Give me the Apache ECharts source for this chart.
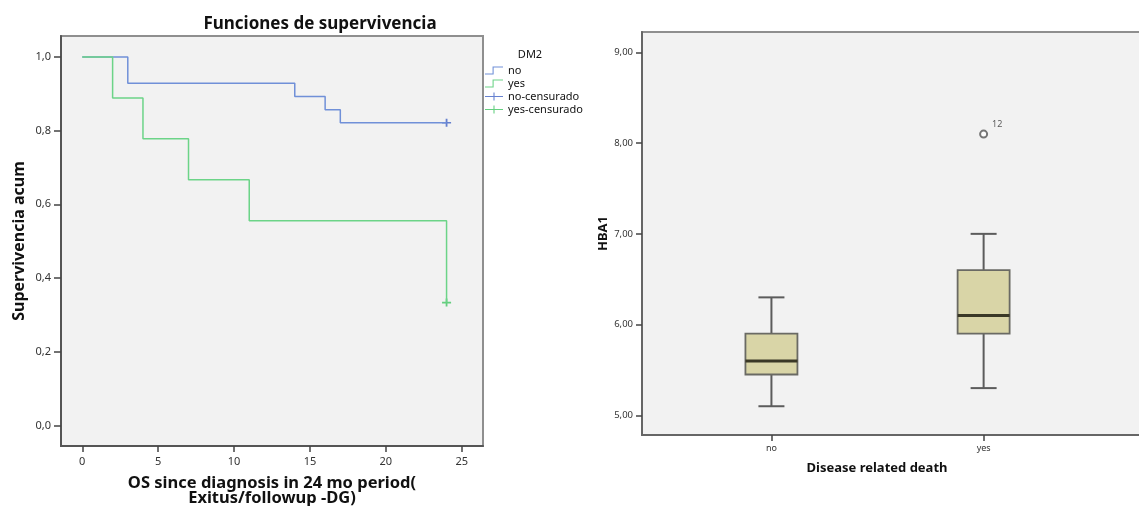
<!DOCTYPE html>
<html>
<head>
<meta charset="utf-8">
<script src="https://cdn.jsdelivr.net/npm/echarts@6/dist/echarts.min.js"></script>
<style>
html,body{margin:0;padding:0;background:#fff;}
#main{width:1139px;height:506px;}
</style>
</head>
<body>
<div id="main"></div>
<script>
// ---- Left chart: Kaplan-Meier survival (DM2) ----
var noTimes  = [0, 3, 14, 16, 17, 24];
var noSurv   = [1.0, 0.9286, 0.8929, 0.8571, 0.8214, 0.8214];
var yesTimes = [0, 2, 4, 7, 11, 24];
var yesSurv  = [1.0, 0.8889, 0.7778, 0.6667, 0.5556, 0.3333];
var noCensorTimes = [24];
var noCensorSurv  = [0.8214];
var yesCensorTimes = [24];
var yesCensorSurv  = [0.3333];
var kmXTicks = [0, 5, 10, 15, 20, 25];
var kmYTicks = [0.0, 0.2, 0.4, 0.6, 0.8, 1.0];
var legendNames = ['no', 'yes', 'no-censurado', 'yes-censurado'];

// ---- Right chart: HBA1 boxplot by disease related death ----
var boxCategories = ['no', 'yes'];
var boxLow    = [5.10, 5.30];
var boxQ1     = [5.45, 5.90];
var boxMedian = [5.60, 6.10];
var boxQ3     = [5.90, 6.60];
var boxHigh   = [6.30, 7.00];
var outlierCategory = [1];
var outlierValue    = [8.10];
var outlierLabel    = ['12'];
var hbaTicks = [5, 6, 7, 8, 9];

function zip(a, b) { return a.map(function (v, i) { return [v, b[i]]; }); }

var FONT = 'Noto Sans';
var chart = echarts.init(document.getElementById('main'));

var stepIcon = 'path://M0,7.8 L8.4,7.8 L8.4,0 L20,0 L20,1.2 L9.6,1.2 L9.6,9 L0,9 Z';
var plusIcon = 'path://M0,3.9 L20,3.9 L20,5.1 L0,5.1 Z M9.4,0 L10.6,0 L10.6,9 L9.4,9 Z';
var plusMark = 'path://M0,4 L10,4 L10,6 L0,6 Z M4,0 L6,0 L6,10 L4,10 Z';

var boxData = boxCategories.map(function (c, i) {
  return [i, boxLow[i], boxQ1[i], boxMedian[i], boxQ3[i], boxHigh[i]];
});

function renderBox(params, api) {
  var x = api.value(0);
  var pLow = api.coord([x, api.value(1)]);
  var pQ1 = api.coord([x, api.value(2)]);
  var pMed = api.coord([x, api.value(3)]);
  var pQ3 = api.coord([x, api.value(4)]);
  var pHigh = api.coord([x, api.value(5)]);
  var cx = pMed[0];
  var bw = 52, cw = 26;
  var lineStyle = { stroke: '#5c5c5c', lineWidth: 2 };
  return {
    type: 'group',
    children: [
      { type: 'line', shape: { x1: cx, y1: pHigh[1], x2: cx, y2: pQ3[1] }, style: lineStyle },
      { type: 'line', shape: { x1: cx, y1: pQ1[1], x2: cx, y2: pLow[1] }, style: lineStyle },
      { type: 'line', shape: { x1: cx - cw / 2, y1: pHigh[1], x2: cx + cw / 2, y2: pHigh[1] }, style: lineStyle },
      { type: 'line', shape: { x1: cx - cw / 2, y1: pLow[1], x2: cx + cw / 2, y2: pLow[1] }, style: lineStyle },
      { type: 'rect', shape: { x: cx - bw / 2, y: pQ3[1], width: bw, height: pQ1[1] - pQ3[1] },
        style: { fill: '#d9d5a7', stroke: '#6a6a64', lineWidth: 1.8 } },
      { type: 'line', shape: { x1: cx - bw / 2, y1: pMed[1], x2: cx + bw / 2, y2: pMed[1] },
        style: { stroke: '#3a3826', lineWidth: 3 } }
    ]
  };
}

var option = {
  animation: false,
  backgroundColor: '#ffffff',
  title: [
    { text: 'Funciones de supervivencia', left: 315, top: 11, textAlign: 'center',
      textStyle: { fontFamily: FONT, fontSize: 17, fontWeight: 'bold', color: '#111' } },
    { text: 'DM2', left: 525, top: 44, textAlign: 'center',
      textStyle: { fontFamily: FONT, fontSize: 11, fontWeight: 'normal', color: '#111' } }
  ],
  legend: {
    orient: 'vertical', left: 480, top: 60, itemWidth: 18, itemHeight: 9, itemGap: 2,
    textStyle: { fontFamily: FONT, fontSize: 11, color: '#111' },
    data: [
      { name: 'no', icon: stepIcon },
      { name: 'yes', icon: stepIcon },
      { name: 'no-censurado', icon: plusIcon },
      { name: 'yes-censurado', icon: plusIcon }
    ]
  },
  grid: [
    { left: 61, top: 36, right: 656, bottom: 60, show: true, backgroundColor: '#f2f2f2',
      borderColor: '#8f8f8f', borderWidth: 2, outerBoundsMode: 'none', containLabel: false },
    { left: 642, top: 32, right: -8, bottom: 71, show: true, backgroundColor: '#f2f2f2',
      borderColor: '#8f8f8f', borderWidth: 2, outerBoundsMode: 'none', containLabel: false }
  ],
  xAxis: [
    { gridIndex: 0, type: 'value', min: -1.4, max: 26.4,
      axisLine: { show: true, onZero: false, lineStyle: { color: '#555', width: 2 } },
      axisTick: { show: true, length: 6, customValues: kmXTicks, lineStyle: { color: '#444', width: 1.5 } },
      axisLabel: { customValues: kmXTicks, margin: 10, fontFamily: FONT, fontSize: 11, color: '#333' },
      splitLine: { show: false },
      name: 'OS since diagnosis in 24 mo period(\nExitus/followup -DG)',
      nameLocation: 'middle', nameGap: 30,
      nameTextStyle: { fontFamily: FONT, fontSize: 16.5, fontWeight: 'bold', color: '#111', lineHeight: 15 } },
    { gridIndex: 1, type: 'value', min: -0.61, max: 1.77,
      axisLine: { show: true, onZero: false, lineStyle: { color: '#666', width: 2 } },
      axisTick: { show: true, length: 6, customValues: [0, 1], lineStyle: { color: '#444', width: 1.5 } },
      axisLabel: { customValues: [0, 1], margin: 9, fontFamily: FONT, fontSize: 9, color: '#333',
        formatter: function (v) { return boxCategories[Math.round(v)]; } },
      splitLine: { show: false },
      name: 'Disease related death', nameLocation: 'middle', nameGap: 27,
      nameTextStyle: { fontFamily: FONT, fontSize: 13, fontWeight: 'bold', color: '#111', padding: [0, 35, 0, 0] } }
  ],
  yAxis: [
    { gridIndex: 0, type: 'value', min: -0.056, max: 1.057,
      axisLine: { show: true, onZero: false, lineStyle: { color: '#555', width: 2 } },
      axisTick: { show: true, length: 7, customValues: kmYTicks, lineStyle: { color: '#444', width: 1.5 } },
      axisLabel: { customValues: kmYTicks, margin: 10, fontFamily: FONT, fontSize: 11, color: '#333',
        formatter: function (v) { return v.toFixed(1).replace('.', ','); } },
      splitLine: { show: false },
      name: 'Supervivencia acum', nameLocation: 'middle', nameGap: 34,
      nameTextStyle: { fontFamily: FONT, fontSize: 16, fontWeight: 'bold', color: '#111' } },
    { gridIndex: 1, type: 'value', min: 4.783, max: 9.225,
      axisLine: { show: true, onZero: false, lineStyle: { color: '#666', width: 2 } },
      axisTick: { show: true, length: 6, customValues: hbaTicks, lineStyle: { color: '#444', width: 1.5 } },
      axisLabel: { customValues: hbaTicks, margin: 9, fontFamily: FONT, fontSize: 9.5, color: '#333',
        formatter: function (v) { return v.toFixed(2).replace('.', ','); } },
      splitLine: { show: false },
      name: 'HBA1', nameLocation: 'middle', nameGap: 32,
      nameTextStyle: { fontFamily: FONT, fontSize: 13, fontWeight: 'bold', color: '#111' } }
  ],
  series: [
    { name: 'no', type: 'line', xAxisIndex: 0, yAxisIndex: 0, step: 'end', symbol: 'none',
      data: zip(noTimes, noSurv), color: '#7090d8', lineStyle: { color: '#7090d8', width: 1.5 } },
    { name: 'yes', type: 'line', xAxisIndex: 0, yAxisIndex: 0, step: 'end', symbol: 'none',
      data: zip(yesTimes, yesSurv), color: '#6cd488', lineStyle: { color: '#6cd488', width: 1.5 } },
    { name: 'no-censurado', type: 'scatter', xAxisIndex: 0, yAxisIndex: 0, symbol: plusMark,
      symbolSize: [9, 8], data: zip(noCensorTimes, noCensorSurv), color: '#4062c4',
      itemStyle: { color: '#4062c4' } },
    { name: 'yes-censurado', type: 'scatter', xAxisIndex: 0, yAxisIndex: 0, symbol: plusMark,
      symbolSize: [9, 8], data: zip(yesCensorTimes, yesCensorSurv), color: '#40c462',
      itemStyle: { color: '#40c462' } },
    { name: 'HBA1 box', type: 'custom', xAxisIndex: 1, yAxisIndex: 1, renderItem: renderBox,
      data: boxData, encode: { x: 0, y: [1, 2, 3, 4, 5] } },
    { name: 'outlier', type: 'scatter', xAxisIndex: 1, yAxisIndex: 1, symbol: 'emptyCircle',
      symbolSize: 7, data: zip(outlierCategory, outlierValue).map(function (d, i) {
        return { value: d, label: { formatter: outlierLabel[i] } };
      }),
      itemStyle: { color: '#555', borderColor: '#555', borderWidth: 1 },
      label: { show: true, position: 'right', offset: [-1, -10], fontFamily: FONT, fontSize: 9, color: '#333' } }
  ]
};
chart.setOption(option);
</script>
</body>
</html>
